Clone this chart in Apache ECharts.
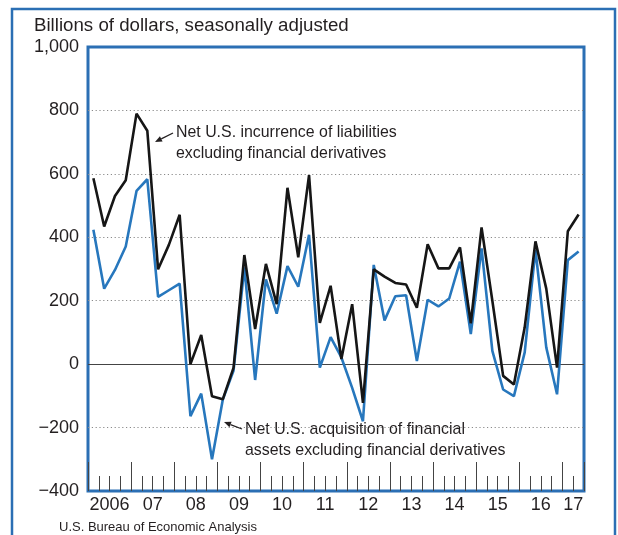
<!DOCTYPE html>
<html>
<head>
<meta charset="utf-8">
<script src="https://cdn.jsdelivr.net/npm/echarts@6/dist/echarts.min.js"></script>
<style>
  html, body { margin: 0; padding: 0; background: #fff; }
  #main { width: 618px; height: 535px; }
</style>
</head>
<body>
<div id="main"></div>
<script>
// quarterly, 2006Q1 .. 2017Q2
const years = [2006, 2007, 2008, 2009, 2010, 2011, 2012, 2013, 2014, 2015, 2016, 2017]
const quartersPerYear = [4, 4, 4, 4, 4, 4, 4, 4, 4, 4, 4, 2]

// Net U.S. incurrence of liabilities excluding financial derivatives
const liabilities = [
  586, 434, 530, 580,   790, 736, 299, 376,   471, 0, 92, -101,
  -111, -11, 344, 111,  316, 189, 556, 337,   596, 130, 247, 16,
  189, -122, 299, 276,  256, 251, 178, 378,   302, 302, 368, 129,
  431, 200, -37, -64,   116, 387, 238, -11,   419, 472
]

// Net U.S. acquisition of financial assets excluding financial derivatives
const assets = [
  424, 238, 297, 371,   546, 583, 212, 233,   254, -164, -93, -300,
  -112, -20, 305, -50,  267, 159, 309, 244,   408, -11, 85, 21,
  -75, -180, 313, 138,  214, 217, 10, 203,    182, 207, 323, 95,
  365, 42, -80, -101,   37, 360, 53, -95,     328, 355
]

const categories = []
years.forEach((y, k) => {
  for (let q = 1; q <= quartersPerYear[k]; q++) categories.push(y + ' Q' + q)
})

const BLUE = '#2b6fb4'
const TEXT = '#231f20'
const FONT = '"Liberation Sans", Arial, sans-serif'

function arrow(x1, y1, x2, y2) {
  const dx = x2 - x1, dy = y2 - y1
  const len = Math.sqrt(dx * dx + dy * dy)
  const ux = dx / len, uy = dy / len
  const hl = 7, hw = 3
  const bx = x2 - ux * hl, by = y2 - uy * hl
  return [
    { type: 'line', shape: { x1: x1, y1: y1, x2: bx, y2: by }, style: { stroke: TEXT, lineWidth: 1.3 }, z: 10 },
    { type: 'polygon', shape: { points: [[x2, y2], [bx - uy * hw, by + ux * hw], [bx + uy * hw, by - ux * hw]] }, style: { fill: TEXT }, z: 10 }
  ]
}

const option = {
  animation: false,
  grid: {
    left: 88, right: 34, top: 47, bottom: 44,
    containLabel: false,
    outerBoundsMode: 'none',
    show: true,
    borderColor: BLUE,
    borderWidth: 3,
    backgroundColor: 'transparent'
  },
  graphic: [
    { type: 'rect', shape: { x: 12, y: 9, width: 603, height: 540 }, style: { fill: 'none', stroke: BLUE, lineWidth: 2.5 }, z: -1 },
    { type: 'text', left: 34, top: 16, style: { text: 'Billions of dollars, seasonally adjusted', font: '18.7px ' + FONT, fill: TEXT } },
    { type: 'text', left: 176, top: 122, style: { text: 'Net U.S. incurrence of liabilities\nexcluding financial derivatives', font: '15.9px ' + FONT, lineHeight: 21, fill: TEXT } },
    { type: 'text', left: 245, top: 419, style: { text: 'Net U.S. acquisition of financial\nassets excluding financial derivatives', font: '15.9px ' + FONT, lineHeight: 21, fill: TEXT } },
    { type: 'text', left: 59, top: 521, style: { text: 'U.S. Bureau of Economic Analysis', font: '13px ' + FONT, fill: TEXT } },
    ...arrow(173, 133, 155, 142),
    ...arrow(242, 429, 224, 422)
  ],
  xAxis: [
    {
      type: 'category',
      data: categories,
      position: 'bottom',
      boundaryGap: true,
      axisLine: { show: false, onZero: false },
      axisTick: { show: true, inside: true, interval: 0, length: 15, lineStyle: { color: '#444', width: 1 } },
      axisLabel: {
        interval: (i) => i % 4 === 2 || i === categories.length - 1,
        formatter: (v) => (v.indexOf('2006') === 0 ? '2006' : v.slice(2, 4)),
        fontSize: 18,
        fontFamily: FONT,
        color: TEXT,
        margin: 5,
        padding: [0, 10.8, 0, 0]
      },
      splitLine: { show: false }
    },
    {
      type: 'category',
      data: categories,
      position: 'bottom',
      boundaryGap: true,
      axisLine: { show: false, onZero: false },
      axisTick: { show: true, inside: true, interval: (i) => i % 4 === 0, length: 29, lineStyle: { color: '#444', width: 1 } },
      axisLabel: { show: false },
      splitLine: { show: false }
    }
  ],
  yAxis: {
    type: 'value',
    min: -400,
    max: 1000,
    interval: 200,
    axisLine: { show: false },
    axisTick: { show: false },
    axisLabel: {
      fontSize: 18,
      fontFamily: FONT,
      color: TEXT,
      margin: 9,
      formatter: (v) => (v < 0 ? '\u2212' : '') + Math.abs(v).toLocaleString('en-US')
    },
    splitLine: {
      show: true,
      lineStyle: {
        type: [1.2, 2.6],
        width: 1,
        color: ['rgba(0,0,0,0)', '#8a8a8a', 'rgba(0,0,0,0)', '#8a8a8a', '#8a8a8a', '#8a8a8a', '#8a8a8a', 'rgba(0,0,0,0)']
      }
    }
  },
  series: [
    {
      name: 'Net U.S. acquisition of financial assets excluding financial derivatives',
      type: 'line',
      data: assets,
      symbol: 'none',
      lineStyle: { color: '#2777bd', width: 2.6 },
      z: 3,
      markLine: {
        silent: true,
        symbol: 'none',
        label: { show: false },
        lineStyle: { color: '#444', width: 1.2, type: 'solid' },
        data: [{ yAxis: 0 }],
        z: 1
      }
    },
    {
      name: 'Net U.S. incurrence of liabilities excluding financial derivatives',
      type: 'line',
      data: liabilities,
      symbol: 'none',
      lineStyle: { color: '#161616', width: 2.6 },
      z: 4
    }
  ]
}

const myChart = echarts.init(document.getElementById('main'), null, { renderer: 'canvas' })
myChart.setOption(option)
</script>
</body>
</html>
